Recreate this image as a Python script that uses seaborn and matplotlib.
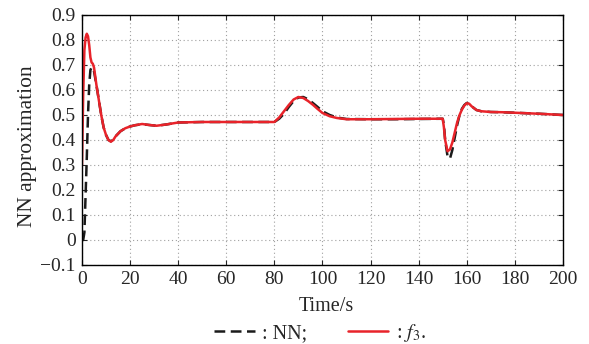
import numpy as np
import pandas as pd
import matplotlib
matplotlib.use("Agg")
import matplotlib.pyplot as plt
import seaborn as sns

time_s = [0, 0.5, 1, 1.5, 2, 2.5, 3, 3.5, 4, 4.5,
          5, 6, 7, 8, 9, 10, 11, 12, 13, 14,
          16, 18, 20, 22, 25, 28, 31, 35, 40, 50,
          60, 70, 80, 82, 84, 86, 88, 90, 92, 94,
          96, 98, 100, 103, 106, 110, 120, 130, 140, 150,
          150.5, 151, 152, 153, 154, 155, 156, 157, 158, 159,
          160, 161, 162, 164, 166, 170, 175, 180, 190, 200]

f3_vals = [0.30, 0.58, 0.76, 0.81, 0.825, 0.815, 0.78, 0.73, 0.71, 0.705,
           0.69, 0.62, 0.56, 0.50, 0.45, 0.42, 0.40, 0.393, 0.40, 0.415,
           0.435, 0.447, 0.454, 0.459, 0.464, 0.460, 0.457, 0.462, 0.470, 0.472,
           0.472, 0.472, 0.472, 0.490, 0.515, 0.540, 0.562, 0.572, 0.568, 0.556,
           0.541, 0.524, 0.508, 0.495, 0.488, 0.483, 0.483, 0.484, 0.485, 0.485,
           0.45, 0.40, 0.355, 0.362, 0.39, 0.43, 0.47, 0.50, 0.522, 0.538,
           0.547, 0.545, 0.535, 0.52, 0.515, 0.512, 0.511, 0.509, 0.505, 0.50]

nn_vals = [0.0, 0.0, 0.03, 0.18, 0.33, 0.50, 0.62, 0.68, 0.69, 0.69,
           0.675, 0.62, 0.56, 0.50, 0.45, 0.42, 0.40, 0.395, 0.40, 0.415,
           0.435, 0.447, 0.454, 0.459, 0.463, 0.460, 0.457, 0.462, 0.470, 0.472,
           0.472, 0.472, 0.472, 0.485, 0.505, 0.532, 0.556, 0.570, 0.572, 0.563,
           0.548, 0.532, 0.515, 0.500, 0.490, 0.484, 0.483, 0.483, 0.484, 0.485,
           0.46, 0.40, 0.335, 0.325, 0.36, 0.41, 0.46, 0.50, 0.525, 0.54,
           0.548, 0.545, 0.535, 0.52, 0.515, 0.512, 0.511, 0.509, 0.505, 0.50]

x_ticks = [0, 20, 40, 60, 80, 100, 120, 140, 160, 180, 200]
y_ticks = [-0.1, 0, 0.1, 0.2, 0.3, 0.4, 0.5, 0.6, 0.7, 0.8, 0.9]
y_tick_labels = ["\u22120.1", "0", "0.1", "0.2", "0.3", "0.4", "0.5", "0.6", "0.7", "0.8", "0.9"]

sns.set_style("ticks")
plt.rcParams["font.family"] = "serif"
plt.rcParams["font.serif"] = ["Liberation Serif", "TeX Gyre Termes", "DejaVu Serif"]
plt.rcParams["mathtext.fontset"] = "stix"
plt.rcParams["xtick.direction"] = "in"
plt.rcParams["ytick.direction"] = "in"

FS = 14.5

df = pd.DataFrame({"t": time_s, "nn": nn_vals, "f3": f3_vals})

fig = plt.figure(figsize=(5.89, 3.44), dpi=100)
ax = fig.add_axes([0.1392, 0.2297, 0.8166, 0.7267])

sns.lineplot(data=df, x="t", y="nn", ax=ax, color="#1a1a1a", lw=1.8,
             linestyle=(0, (4.3, 2.2)), label=": NN;")
sns.lineplot(data=df, x="t", y="f3", ax=ax, color="#e8232a", lw=1.8,
             label=": $f_3$.")

ax.set_xlim(0, 200)
ax.set_ylim(-0.1, 0.9)
ax.set_xticks(x_ticks)
ax.set_xticklabels([str(v) for v in x_ticks])
ax.set_yticks(y_ticks)
ax.set_yticklabels(y_tick_labels)
ax.tick_params(labelsize=14, top=True, right=True, length=3.6, width=0.8, pad=4.5)
ax.grid(True, linestyle=(0, (1, 2.5)), color="#a0a0a0", lw=0.8)
for s in ax.spines.values():
    s.set_visible(True)
    s.set_color("black")
    s.set_linewidth(1.0)

ax.set_xlabel("Time/s", fontsize=FS)
ax.xaxis.set_label_coords(0.507, -0.13)
ax.set_ylabel("NN approximation", fontsize=15.5)
ax.yaxis.set_label_coords(-0.093, 0.475)

ax.get_legend().remove()
h, l = ax.get_legend_handles_labels()
fig.legend(h, l, loc="center", bbox_to_anchor=(0.543, 0.032), ncol=2,
           frameon=False, fontsize=FS, handlelength=2.0, handletextpad=0.38,
           columnspacing=2.0, borderpad=0.1)

fig.savefig("out.png", dpi=100)
